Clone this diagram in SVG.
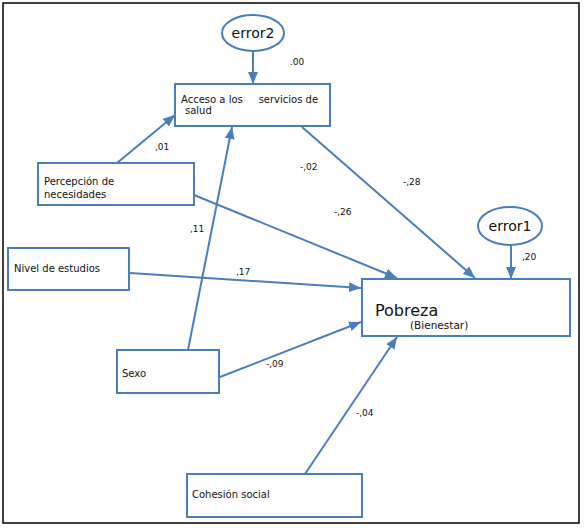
<svg xmlns="http://www.w3.org/2000/svg" width="587" height="530" viewBox="0 0 587 530">
<defs>
<marker id="ah" markerUnits="userSpaceOnUse" markerWidth="12" markerHeight="10" viewBox="0 0 12 10" refX="12" refY="5" orient="auto">
<path d="M0,0 L12,5 L0,10 Z" fill="#4a7ebb"/>
</marker>
<style>
.box{fill:#fff;stroke:#4a7ebb;stroke-width:2}
.ell{fill:#fff;stroke:#4a7ebb;stroke-width:2}
.con{stroke:#4a7ebb;stroke-width:2;fill:none;marker-end:url(#ah)}
.t{font-family:"DejaVu Sans",Verdana,sans-serif;font-size:10px;fill:#111;white-space:pre}
.n{font-family:"DejaVu Sans",Verdana,sans-serif;font-size:9px;fill:#111}
.e{font-family:"DejaVu Sans",Verdana,sans-serif;font-size:14px;fill:#111;text-anchor:middle}
</style>
</defs>
<rect x="3" y="3" width="576" height="520" fill="#fff" stroke="#000" stroke-width="1.5"/>
<g id="connectors">
<line class="con" x1="253" y1="52" x2="253" y2="84"/>
<line class="con" x1="511" y1="245" x2="511" y2="279"/>
<line class="con" x1="117" y1="163" x2="175" y2="115"/>
<line class="con" x1="188" y1="350" x2="232" y2="127"/>
<line class="con" x1="302" y1="127" x2="475" y2="278"/>
<line class="con" x1="194" y1="195" x2="397" y2="278"/>
<line class="con" x1="130" y1="273" x2="361" y2="288"/>
<line class="con" x1="220" y1="377" x2="361" y2="322"/>
<line class="con" x1="305" y1="474" x2="397" y2="337"/>
</g>
<g id="labels">
<text class="n" x="290" y="65">.00</text>
<text class="n" x="155" y="150">,01</text>
<text class="n" x="300" y="170">-,02</text>
<text class="n" x="403" y="185">-,28</text>
<text class="n" x="334" y="215">-,26</text>
<text class="n" x="190" y="232">,11</text>
<text class="n" x="236" y="275">,17</text>
<text class="n" x="522" y="260">,20</text>
<text class="n" x="266" y="367">-,09</text>
<text class="n" x="356" y="416">-,04</text>
</g>
<g id="error2">
<ellipse class="ell" cx="253" cy="33" rx="31" ry="18"/>
<text class="e" x="253" y="38">error2</text>
</g>
<g id="error1">
<ellipse class="ell" cx="510" cy="226" rx="32" ry="19"/>
<text class="e" x="510" y="231">error1</text>
</g>
<g id="acceso">
<rect class="box" x="175" y="84" width="155" height="42"/>
<text class="t" x="181" y="103">Acceso a los     servicios de</text>
<text class="t" x="185" y="114">salud</text>
</g>
<g id="percepcion">
<rect class="box" x="38" y="163" width="156" height="42"/>
<text class="t" x="44" y="185">Percepción de</text>
<text class="t" x="44" y="198">necesidades</text>
</g>
<g id="nivel">
<rect class="box" x="8" y="248" width="121" height="42"/>
<text class="t" x="14" y="272">Nivel de estudios</text>
</g>
<g id="pobreza">
<rect class="box" x="362" y="279" width="208" height="57"/>
<text class="t" x="375" y="316" style="font-size:16px">Pobreza</text>
<text class="t" x="410" y="329" style="font-size:10.5px">(Bienestar)</text>
</g>
<g id="sexo">
<rect class="box" x="117" y="350" width="102" height="43"/>
<text class="t" x="122" y="377">Sexo</text>
</g>
<g id="cohesion">
<rect class="box" x="187" y="474" width="175" height="43"/>
<text class="t" x="192" y="498">Cohesión social</text>
</g>
</svg>
